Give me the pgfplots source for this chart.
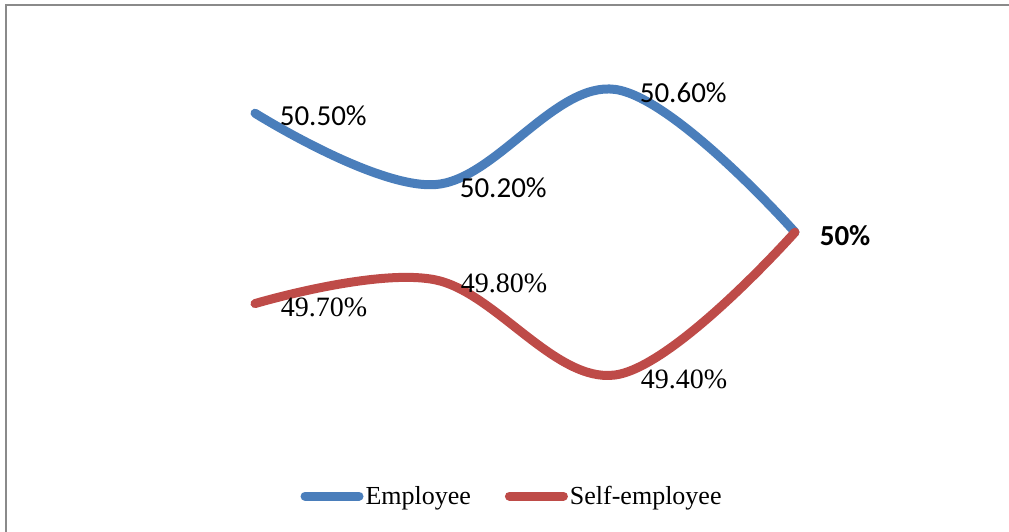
\documentclass[border=0pt]{standalone}
\usepackage{fontspec}
\setmainfont{Liberation Serif}
\newfontfamily\calibri{Carlito}
\usepackage{pgfplots}
\pgfplotsset{compat=1.18}
\definecolor{empblue}{HTML}{4A7EBB}
\definecolor{selfred}{HTML}{BE4B48}
\definecolor{framegray}{HTML}{8A8A8A}
\begin{document}
\begin{tikzpicture}[x=1pt,y=1pt]
\useasboundingbox (0,0) rectangle (1009,532);
\draw[framegray, line width=2.2pt] (6,0) -- (6,527) -- (1009,527);
\begin{axis}[
  at={(255pt,157pt)}, anchor=south west,
  scale only axis, width=540pt, height=285.6pt,
  xmin=1, xmax=4, ymin=49.4, ymax=50.6,
  hide axis, clip=false,
  legend columns=2,
  legend style={draw=none, fill=none, at={(0.476,-0.424)}, anchor=center,
    font=\fontsize{26}{30}\selectfont, column sep=0pt,
    /tikz/every even column/.append style={column sep=32pt}},
  legend image code/.code={\draw[#1, line cap=round] (0pt,0pt) -- (54pt,0pt);},
]
\addplot[empblue, line width=9pt, smooth, tension=0.6, line cap=round,
  nodes near coords, point meta=explicit symbolic,
  every node near coord/.style={anchor=west, xshift=17pt, yshift=-3pt, black,
    font=\calibri\fontsize{29}{32}\selectfont}]
  table[meta=lab] {
x y lab
1 50.5 50.50\%
2 50.2 50.20\%
3 50.6 50.60\%
4 50.0 \textbf{50\%}
};
\addlegendentry{Employee}
\addplot[selfred, line width=9pt, smooth, tension=0.6, line cap=round,
  nodes near coords, point meta=explicit symbolic,
  every node near coord/.style={anchor=west, xshift=18pt, yshift=-4pt, black,
    font=\fontsize{28}{32}\selectfont}]
  table[meta=lab] {
x y lab
1 49.7 49.70\%
2 49.8 49.80\%
3 49.4 49.40\%
4 50.0 {}
};
\addlegendentry{Self-employee}
\end{axis}
\end{tikzpicture}
\end{document}
